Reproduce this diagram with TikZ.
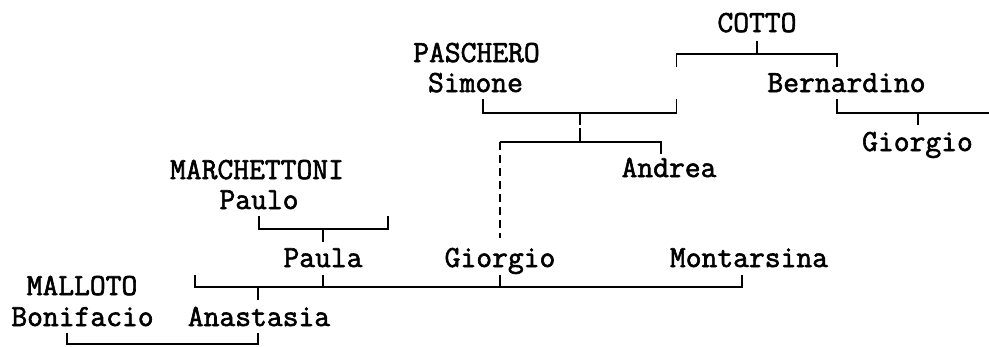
\documentclass[tikz,border=0pt]{standalone}
\usepackage{fontspec}
\newfontfamily\treefont{Latin Modern Mono}[FakeBold=2]
\begin{document}
\begin{tikzpicture}[x=1pt,y=-1pt,
  person/.style={anchor=base,inner sep=0pt,outer sep=0pt,font=\treefont\fontsize{30.7}{30.7}\selectfont},
  link/.style={line width=1.7pt,line cap=butt,line join=miter},
  dlink/.style={link,dash pattern=on 8pt off 5pt}]
\useasboundingbox (0,0) rectangle (989,346);
% names
\node[person] (cotto) at (757,32) {COTTO};
\node[person] (paschero) at (476.5,62) {PASCHERO};
\node[person] (simone) at (475.5,92) {Simone};
\node[person] (bernardino) at (846.5,92) {Bernardino};
\node[person] (giorgioR) at (917.5,151) {Giorgio};
\node[person] (andrea) at (669,177) {Andrea};
\node[person] (marchettoni) at (257,179) {MARCHETTONI};
\node[person] (paulo) at (259,209) {Paulo};
\node[person] (paula) at (323,267) {Paula};
\node[person] (giorgioM) at (500,267) {Giorgio};
\node[person] (montarsina) at (749,267) {Montarsina};
\node[person] (malloto) at (82,295) {MALLOTO};
\node[person] (bonifacio) at (82.5,326) {Bonifacio};
\node[person] (anastasia) at (259,326) {Anastasia};
% joints
\coordinate (cT) at (757,41);   \coordinate (cJ) at (757,54);
\coordinate (cL) at (676.5,54); \coordinate (cLd) at (676.5,67);
\coordinate (cR) at (837,54);   \coordinate (cRd) at (837,67);
\coordinate (sL) at (483,99);   \coordinate (sLb) at (483,113);
\coordinate (sR) at (676.5,99); \coordinate (sRb) at (676.5,113);
\coordinate (sJ) at (580,113);  \coordinate (sJa) at (580,125);
\coordinate (sJb) at (580,128); \coordinate (aJ) at (580,142);
\coordinate (bL) at (837,99);   \coordinate (bLb) at (837,113);
\coordinate (bE) at (989,113);  \coordinate (bJ) at (918,113);
\coordinate (bJd) at (918,125);
\coordinate (aL) at (500,142);  \coordinate (aLd) at (500,238);
\coordinate (aR) at (661,142);  \coordinate (aRd) at (661,154);
\coordinate (pL) at (259,216);  \coordinate (pLb) at (259,229);
\coordinate (pR) at (388,216);  \coordinate (pRb) at (388,229);
\coordinate (pJ) at (323,229);  \coordinate (pJd) at (323,242);
\coordinate (lL) at (195,275);  \coordinate (lLb) at (195,287);
\coordinate (lR) at (742,275);  \coordinate (lRb) at (742,287);
\coordinate (lP) at (323,275);  \coordinate (lPb) at (323,287);
\coordinate (lG) at (500,275);  \coordinate (lGb) at (500,287);
\coordinate (lJ) at (258,287);  \coordinate (lJd) at (258,300);
\coordinate (mL) at (67,333);   \coordinate (mLb) at (67,344);
\coordinate (mR) at (258,333);  \coordinate (mRb) at (258,344);
% connectors
\draw[link] (cT) -- (cJ);
\draw[link] (cLd) -- (cL) -- (cR) -- (cRd);
\draw[link] (sL) -- (sLb) -- (sRb) -- (sR);
\draw[link] (sJ) -- (sJa);
\draw[link] (sJb) -- (aJ);
\draw[link] (bL) -- (bLb) -- (bE);
\draw[link] (bJ) -- (bJd);
\draw[link] (aL) -- (aR) -- (aRd);
\draw[dlink] (aL) -- (aLd);
\draw[link] (pL) -- (pLb) -- (pRb) -- (pR);
\draw[link] (pJ) -- (pJd);
\draw[link] (lL) -- (lLb) -- (lRb) -- (lR);
\draw[link] (lP) -- (lPb);
\draw[link] (lG) -- (lGb);
\draw[link] (lJ) -- (lJd);
\draw[link] (mL) -- (mLb) -- (mRb) -- (mR);
\end{tikzpicture}
\end{document}
